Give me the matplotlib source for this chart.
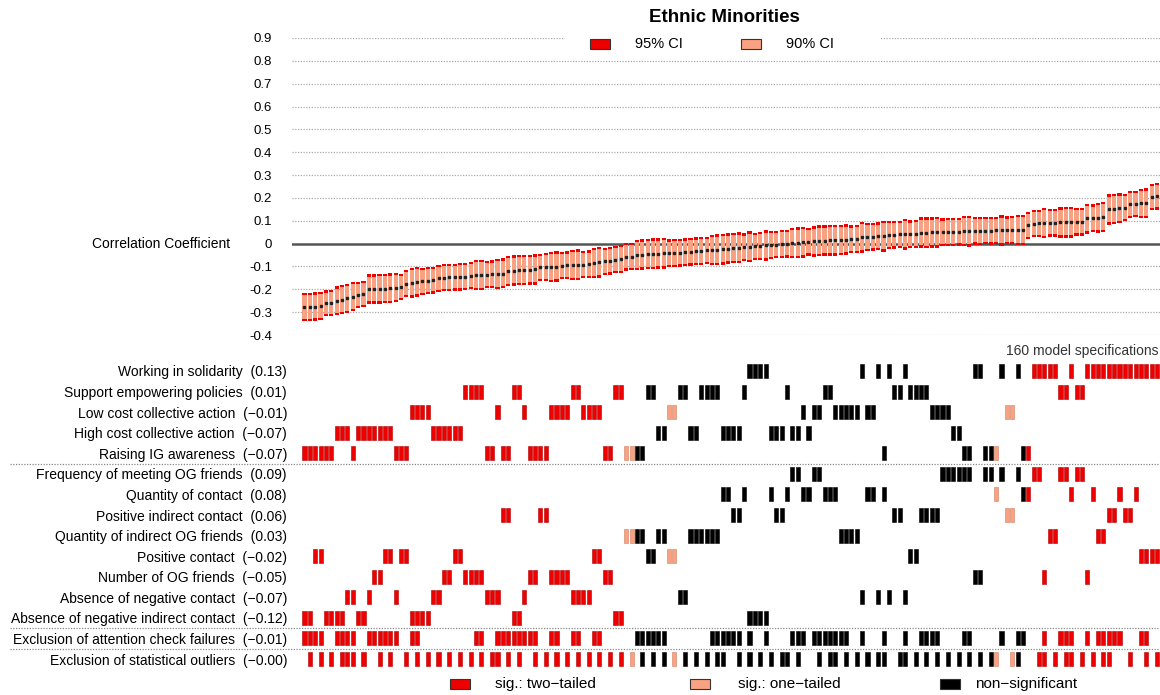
import numpy as np
import matplotlib
matplotlib.use("Agg")
import matplotlib.pyplot as plt
from matplotlib.patches import Rectangle

plt.rcParams['font.family'] = ['Liberation Sans', 'DejaVu Sans']

title = "Ethnic Minorities"

# correlation estimates of the 160 specifications, sorted
est = [
    -0.278, -0.278, -0.276, -0.274, -0.262, -0.260, -0.250, -0.246, -0.240, -0.232,
    -0.226, -0.222, -0.200, -0.199, -0.198, -0.197, -0.195, -0.193, -0.190, -0.176,
    -0.172, -0.168, -0.165, -0.162, -0.160, -0.152, -0.150, -0.148, -0.147, -0.146,
    -0.145, -0.140, -0.138, -0.137, -0.136, -0.134, -0.133, -0.131, -0.120, -0.118,
    -0.117, -0.116, -0.115, -0.113, -0.104, -0.103, -0.102, -0.101, -0.096, -0.095,
    -0.094, -0.093, -0.092, -0.091, -0.085, -0.082, -0.078, -0.075, -0.070, -0.067,
    -0.058, -0.057, -0.050, -0.048, -0.046, -0.045, -0.044, -0.043, -0.042, -0.041,
    -0.040, -0.038, -0.036, -0.034, -0.032, -0.030, -0.028, -0.026, -0.024, -0.022,
    -0.020, -0.018, -0.016, -0.013, -0.012, -0.010, -0.008, -0.006, -0.004, -0.002,
    0.000, 0.002, 0.004, 0.006, 0.008, 0.010, 0.012, 0.013, 0.014, 0.015,
    0.016, 0.018, 0.019, 0.020, 0.028, 0.029, 0.030, 0.032, 0.033, 0.038,
    0.039, 0.040, 0.041, 0.041, 0.042, 0.048, 0.048, 0.049, 0.050, 0.050,
    0.051, 0.051, 0.052, 0.055, 0.055, 0.056, 0.056, 0.057, 0.057, 0.058,
    0.058, 0.059, 0.059, 0.060, 0.060, 0.080, 0.088, 0.089, 0.090, 0.091,
    0.092, 0.093, 0.094, 0.094, 0.095, 0.096, 0.110, 0.112, 0.114, 0.117,
    0.150, 0.152, 0.155, 0.158, 0.172, 0.174, 0.176, 0.178, 0.205, 0.208,
]

outcome_names = ["Working in solidarity", "Support empowering policies",
                 "Low cost collective action", "High cost collective action",
                 "Raising IG awareness"]
outcome_codes = "WSLHR"
predictor_names = ["Frequency of meeting OG friends", "Quantity of contact",
                   "Positive indirect contact", "Quantity of indirect OG friends",
                   "Positive contact", "Number of OG friends",
                   "Absence of negative contact", "Absence of negative indirect contact"]
predictor_codes = "FQPICNAX"
option_names = ["Exclusion of attention check failures", "Exclusion of statistical outliers"]
row_values = ["0.13", "0.01", "-0.01", "-0.07", "-0.07",
              "0.09", "0.08", "0.06", "0.03", "-0.02", "-0.05", "-0.07", "-0.12",
              "-0.01", "-0.00"]

# one character per specification
spec_outcome = ("RRRRRRHHHR" "HHHHHHHRRR" "LLLLHHHHHH" "SSSSRRLRRS"
                "SLRRRRLLLL" "SSLLLLRRSS" "RRRRSSHHLL" "SSHHSSSSHH"
                "HHSWWWWHHH" "SHHLHLLSSL" "LLLLWLLWRW" "SSWSSSSLLL"
                "LHHRRWWRRR" "WLLWRRWWWW" "WSSWSSWWWW" "WWWWWWWWWW")
spec_predictor = ("XXCCXXXXAA" "XXANNCCACC" "XXXXAANNCC" "NNNNAAAPPX"
                  "XANNPPNNNN" "AAAACCNNXX" "IIIICCIICC" "AAIIIIIIQQ"
                  "PPQXXXXQPP" "QFFQQFFQQQ" "IIIIAQQAQA" "PPACCPPPPF"
                  "FFFFFNNFFQ" "FPPFQQFFNI" "IFFQFFNQII" "PPQPPQCCCC")
spec_attention = ("1111001111" "0011111100" "1100000000" "0011001111"
                  "1111001100" "1100110000" "0011111100" "0000001111"
                  "1101001000" "0111011111" "1100100010" "0010011110"
                  "0001100000" "1001100010" "0111001011" "1110001100")
spec_outliers = ("0101010111" "0100101001" "0101010101" "0101011010"
                 "1001010101" "0101010101" "0101010101" "0101010110"
                 "0101010101" "1010001011" "0101010110" "0110101010"
                 "1010101011" "0011000110" "1011010101" "1000100101")
# r = sig. two-tailed, s = sig. one-tailed, k = non-significant
spec_sig = ("rrrrrrrrrr" "rrrrrrrrrr" "rrrrrrrrrr" "rrrrrrrrrr"
            "rrrrrrrrrr" "rrrrrrrrrr" "sskkkkkkss" "kkkkkkkkkk"
            "kkkkkkkkkk" "kkkkkkkkkk" "kkkkkkkkkk" "kkkkkkkkkk"
            "kkkkkkkkks" "ksskkrrrrr" "rrrrrrrrrr" "rrrrrrrrrr")

# sample size by (attention exclusion, outlier exclusion)
n_sample = {"00": 1050, "01": 1030, "10": 860, "11": 840}

RED = "#EE0000"
SALMON = "#F9A283"
sig_colors = {"r": RED, "s": SALMON, "k": "#000000"}
sig_edges = {"r": "#B00000", "s": "#D08060", "k": "#000000"}

x = np.arange(len(est))
r = np.array(est)
n = np.array([n_sample[a + o] for a, o in zip(spec_attention, spec_outliers)])
z = np.arctanh(r)
se = 1 / np.sqrt(n - 3)
lo95, hi95 = np.tanh(z - 1.96 * se), np.tanh(z + 1.96 * se)
lo90, hi90 = np.tanh(z - 1.645 * se), np.tanh(z + 1.645 * se)

fig = plt.figure(figsize=(11.6, 6.95), dpi=100)
W, H = 1160, 695
xlim = (-2.33, 159.56)

# ---- top panel: curve
ax = fig.add_axes([292 / W, 1 - 335 / H, 868 / W, 297 / H])
ticks = np.round(np.arange(-0.4, 0.91, 0.1), 1)
for v in ticks:
    if v == 0:
        ax.axhline(0, color="#555555", lw=1.8, zorder=2)
    else:
        ax.axhline(v, color="#aaaaaa", lw=0.9, ls=(0, (1, 1.2)), zorder=1)
ax.bar(x, hi95 - lo95, bottom=lo95, width=0.78, color=RED, linewidth=0, zorder=3)
ax.bar(x, hi90 - lo90, bottom=lo90, width=0.78, color=SALMON, linewidth=0, zorder=4)
ax.plot(x, r, "s", ms=1.5, color="#222222", zorder=5)
ax.set_xlim(*xlim)
ax.set_ylim(-0.4, 0.9)
ax.set_xticks([])
ax.set_yticks(ticks)
ax.set_yticklabels(["0" if v == 0 else f"{v:.1f}" for v in ticks])
ax.tick_params(axis="y", length=0, pad=14.4, labelsize=9.5)
for s in ax.spines.values():
    s.set_visible(False)
ax.text(-0.0714, 0, "Correlation Coefficient", transform=ax.get_yaxis_transform(),
        ha="right", va="center", fontsize=10)

fig.text(724 / W, 1 - 17 / H, title, ha="center", va="center",
         fontsize=13.5, fontweight="bold")

# top legend
fig.add_artist(Rectangle((565 / W, 1 - 55 / H), 315 / W, 27 / H, transform=fig.transFigure,
                         facecolor="white", edgecolor="none", zorder=5))
for px, col, lab in [(590, RED, "95% CI"), (741, SALMON, "90% CI")]:
    fig.add_artist(Rectangle((px / W, 1 - 48.5 / H), 20 / W, 9 / H, transform=fig.transFigure,
                             facecolor=col, edgecolor="#333333", lw=0.8, zorder=6))
    fig.text((px + 45) / W, 1 - 44 / H, lab, ha="left", va="center", fontsize=10.5, zorder=6)

# ---- bottom panel: specification indicators
row_names = outcome_names + predictor_names + option_names
row_labels = [f"{name}  ({v.replace('-', chr(0x2212))})"
              for name, v in zip(row_names, row_values)]

xs, ys, cs, es = [], [], [], []
for i in range(len(est)):
    rows = [outcome_codes.index(spec_outcome[i]),
            5 + predictor_codes.index(spec_predictor[i])]
    if spec_attention[i] == "1":
        rows.append(13)
    if spec_outliers[i] == "1":
        rows.append(14)
    for rw in rows:
        xs.append(i)
        ys.append(rw)
        cs.append(sig_colors[spec_sig[i]])
        es.append(sig_edges[spec_sig[i]])

ax2 = fig.add_axes([292 / W, 1 - 669.3 / H, 868 / W, 308.6 / H])
ax2.bar(xs, 0.68, bottom=np.array(ys) - 0.34, width=0.76, color=cs,
        edgecolor=es, linewidth=0.4)
ax2.set_xlim(*xlim)
ax2.set_ylim(14.5, -0.5)
ax2.set_xticks([])
ax2.set_yticks(range(len(row_labels)))
ax2.set_yticklabels(row_labels)
ax2.tick_params(axis="y", length=0, pad=3.6, labelsize=10)
for s in ax2.spines.values():
    s.set_visible(False)
for yy in (4.5, 12.5, 13.5):
    ax2.plot([-0.325, 1], [yy, yy], transform=ax2.get_yaxis_transform(), clip_on=False,
             color="#888888", lw=0.9, ls=(0, (1, 1.2)))

fig.text(1158 / W, 1 - 351 / H, f"{len(est)} model specifications", ha="right",
         va="center", fontsize=10, color="#333333")

# bottom legend
for px, tx, col, lab in [(450, 495, RED, "sig.: two\u2212tailed"),
                         (690, 738, SALMON, "sig.: one\u2212tailed"),
                         (940, 975, "#000000", "non\u2212significant")]:
    fig.add_artist(Rectangle((px / W, 1 - 689 / H), 20 / W, 10 / H, transform=fig.transFigure,
                             facecolor=col, edgecolor="#333333", lw=0.8))
    fig.text(tx / W, 1 - 684 / H, lab, ha="left", va="center", fontsize=11)

fig.savefig("out.png", dpi=100)
